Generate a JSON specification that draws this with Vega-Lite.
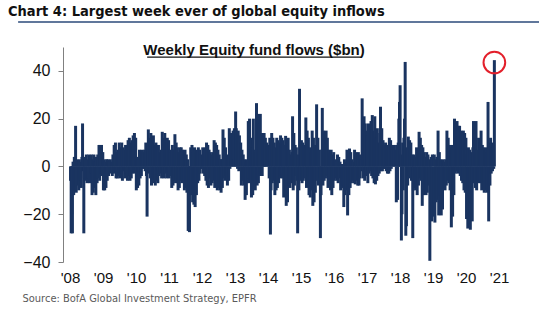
{
"$schema":"https://vega.github.io/schema/vega-lite/v6.json",
"width":452,"height":215,
"autosize":{"type":"none"},
"padding":{"left":63,"top":47,"right":35,"bottom":59},
"background":"white",
"config":{"view":{"stroke":null}},
"title":{"text":"Chart 4: Largest week ever of global equity inflows","anchor":"start","frame":"group","dx":-55,"offset":2,"font":"Liberation Sans Narrow, DejaVu Sans Condensed, sans-serif","fontSize":14.5,"fontWeight":"bold","color":"#111111"},
"datasets":{"flows":[
{"d":"2008-01","v":-6},{"d":"2008-02","v":-28},{"d":"2008-03","v":-20},{"d":"2008-04","v":-28},{"d":"2008-05","v":2},{"d":"2008-06","v":-12},{"d":"2008-07","v":4},{"d":"2008-08","v":-10},{"d":"2008-09","v":17},{"d":"2008-10","v":-11},{"d":"2008-11","v":3},{"d":"2008-12","v":-8},{"d":"2008-13","v":2},{"d":"2008-14","v":-10},{"d":"2008-15","v":3},{"d":"2008-16","v":-6},{"d":"2008-17","v":2},{"d":"2008-18","v":-9},{"d":"2008-19","v":4},{"d":"2008-20","v":18},{"d":"2008-21","v":-2},{"d":"2008-22","v":-28},{"d":"2008-23","v":-5},{"d":"2008-24","v":4},{"d":"2008-25","v":-6},{"d":"2008-26","v":5},{"d":"2008-27","v":-7},{"d":"2008-28","v":3},{"d":"2008-29","v":-5},{"d":"2008-30","v":5},{"d":"2008-31","v":-7},{"d":"2008-32","v":4},{"d":"2008-33","v":-3},{"d":"2008-34","v":5},{"d":"2008-35","v":-12},{"d":"2008-36","v":3},{"d":"2008-37","v":-11},{"d":"2008-38","v":5},{"d":"2008-39","v":-9},{"d":"2008-40","v":2},{"d":"2008-41","v":-12},{"d":"2008-42","v":4},{"d":"2008-43","v":-7},{"d":"2008-44","v":5},{"d":"2008-45","v":-5},{"d":"2008-46","v":9},{"d":"2008-47","v":-6},{"d":"2008-48","v":8},{"d":"2008-49","v":-3},{"d":"2008-50","v":9},{"d":"2008-51","v":-4},{"d":"2008-52","v":6},
{"d":"2009-01","v":-10},{"d":"2009-02","v":3},{"d":"2009-03","v":-10},{"d":"2009-04","v":2},{"d":"2009-05","v":-9},{"d":"2009-06","v":3},{"d":"2009-07","v":-6},{"d":"2009-08","v":3},{"d":"2009-09","v":-4},{"d":"2009-10","v":2},{"d":"2009-11","v":-3},{"d":"2009-12","v":3},{"d":"2009-13","v":-2},{"d":"2009-14","v":2},{"d":"2009-15","v":-4},{"d":"2009-16","v":5},{"d":"2009-17","v":-3},{"d":"2009-18","v":9},{"d":"2009-19","v":-2},{"d":"2009-20","v":10},{"d":"2009-21","v":-5},{"d":"2009-22","v":6},{"d":"2009-23","v":-5},{"d":"2009-24","v":7},{"d":"2009-25","v":-4},{"d":"2009-26","v":10},{"d":"2009-27","v":-5},{"d":"2009-28","v":8},{"d":"2009-29","v":-3},{"d":"2009-30","v":10},{"d":"2009-31","v":-6},{"d":"2009-32","v":8},{"d":"2009-33","v":-2},{"d":"2009-34","v":7},{"d":"2009-35","v":-5},{"d":"2009-36","v":9},{"d":"2009-37","v":-3},{"d":"2009-38","v":8},{"d":"2009-39","v":-6},{"d":"2009-40","v":11},{"d":"2009-41","v":-4},{"d":"2009-42","v":12},{"d":"2009-43","v":-6},{"d":"2009-44","v":10},{"d":"2009-45","v":-5},{"d":"2009-46","v":11},{"d":"2009-47","v":-3},{"d":"2009-48","v":13},{"d":"2009-49","v":-2},{"d":"2009-50","v":14},{"d":"2009-51","v":-3},{"d":"2009-52","v":12},
{"d":"2010-01","v":-10},{"d":"2010-02","v":4},{"d":"2010-03","v":-9},{"d":"2010-04","v":3},{"d":"2010-05","v":-8},{"d":"2010-06","v":7},{"d":"2010-07","v":-5},{"d":"2010-08","v":6},{"d":"2010-09","v":-4},{"d":"2010-10","v":7},{"d":"2010-11","v":-1},{"d":"2010-12","v":6},{"d":"2010-13","v":-1},{"d":"2010-14","v":7},{"d":"2010-15","v":-2},{"d":"2010-16","v":10},{"d":"2010-17","v":-4},{"d":"2010-18","v":-21},{"d":"2010-19","v":8},{"d":"2010-20","v":15.5},{"d":"2010-21","v":-3},{"d":"2010-22","v":12},{"d":"2010-23","v":-5},{"d":"2010-24","v":14},{"d":"2010-25","v":-8},{"d":"2010-26","v":12},{"d":"2010-27","v":-6},{"d":"2010-28","v":13},{"d":"2010-29","v":-7},{"d":"2010-30","v":9},{"d":"2010-31","v":-8},{"d":"2010-32","v":10},{"d":"2010-33","v":-6},{"d":"2010-34","v":8},{"d":"2010-35","v":-7},{"d":"2010-36","v":9},{"d":"2010-37","v":-4},{"d":"2010-38","v":6},{"d":"2010-39","v":-3},{"d":"2010-40","v":7},{"d":"2010-41","v":-5},{"d":"2010-42","v":14.5},{"d":"2010-43","v":-4},{"d":"2010-44","v":12},{"d":"2010-45","v":-5},{"d":"2010-46","v":14},{"d":"2010-47","v":-3},{"d":"2010-48","v":11},{"d":"2010-49","v":-5},{"d":"2010-50","v":12},{"d":"2010-51","v":-2},{"d":"2010-52","v":11},
{"d":"2011-01","v":-5},{"d":"2011-02","v":7},{"d":"2011-03","v":-4},{"d":"2011-04","v":6},{"d":"2011-05","v":-9},{"d":"2011-06","v":9},{"d":"2011-07","v":-8},{"d":"2011-08","v":7},{"d":"2011-09","v":-6},{"d":"2011-10","v":13.5},{"d":"2011-11","v":-7},{"d":"2011-12","v":10},{"d":"2011-13","v":-5},{"d":"2011-14","v":8},{"d":"2011-15","v":-10},{"d":"2011-16","v":6},{"d":"2011-17","v":-9},{"d":"2011-18","v":8},{"d":"2011-19","v":-6},{"d":"2011-20","v":8},{"d":"2011-21","v":-7},{"d":"2011-22","v":7},{"d":"2011-23","v":-6},{"d":"2011-24","v":6},{"d":"2011-25","v":-10},{"d":"2011-26","v":7},{"d":"2011-27","v":-9},{"d":"2011-28","v":5},{"d":"2011-29","v":-11},{"d":"2011-30","v":3},{"d":"2011-31","v":-27},{"d":"2011-32","v":-22},{"d":"2011-33","v":-27.5},{"d":"2011-34","v":-10},{"d":"2011-35","v":8},{"d":"2011-36","v":-12},{"d":"2011-37","v":9},{"d":"2011-38","v":-15},{"d":"2011-39","v":6},{"d":"2011-40","v":-16},{"d":"2011-41","v":8},{"d":"2011-42","v":-17},{"d":"2011-43","v":6},{"d":"2011-44","v":-12},{"d":"2011-45","v":7},{"d":"2011-46","v":-7},{"d":"2011-47","v":8},{"d":"2011-48","v":-6},{"d":"2011-49","v":7},{"d":"2011-50","v":-3},{"d":"2011-51","v":5},{"d":"2011-52","v":-1},
{"d":"2012-01","v":-1},{"d":"2012-02","v":8},{"d":"2012-03","v":-3},{"d":"2012-04","v":7},{"d":"2012-05","v":-4},{"d":"2012-06","v":8},{"d":"2012-07","v":-6},{"d":"2012-08","v":10},{"d":"2012-09","v":-8},{"d":"2012-10","v":9},{"d":"2012-11","v":-9},{"d":"2012-12","v":7},{"d":"2012-13","v":-5},{"d":"2012-14","v":6},{"d":"2012-15","v":-8},{"d":"2012-16","v":5},{"d":"2012-17","v":-7},{"d":"2012-18","v":6},{"d":"2012-19","v":-6},{"d":"2012-20","v":11},{"d":"2012-21","v":-9},{"d":"2012-22","v":10},{"d":"2012-23","v":-8},{"d":"2012-24","v":9},{"d":"2012-25","v":-10},{"d":"2012-26","v":7},{"d":"2012-27","v":-9},{"d":"2012-28","v":5},{"d":"2012-29","v":-10},{"d":"2012-30","v":3},{"d":"2012-31","v":-11},{"d":"2012-32","v":3},{"d":"2012-33","v":-9},{"d":"2012-34","v":15.5},{"d":"2012-35","v":-5},{"d":"2012-36","v":12},{"d":"2012-37","v":-6},{"d":"2012-38","v":8},{"d":"2012-39","v":-4},{"d":"2012-40","v":5},{"d":"2012-41","v":-8},{"d":"2012-42","v":4},{"d":"2012-43","v":-6},{"d":"2012-44","v":16},{"d":"2012-45","v":-1},{"d":"2012-46","v":14},{"d":"2012-47","v":2},{"d":"2012-48","v":12},{"d":"2012-49","v":0},{"d":"2012-50","v":15},{"d":"2012-51","v":3},{"d":"2012-52","v":16},
{"d":"2013-01","v":23},{"d":"2013-02","v":16},{"d":"2013-03","v":14},{"d":"2013-04","v":-1},{"d":"2013-05","v":15},{"d":"2013-06","v":-2},{"d":"2013-07","v":13},{"d":"2013-08","v":-1},{"d":"2013-09","v":10},{"d":"2013-10","v":-8},{"d":"2013-11","v":7},{"d":"2013-12","v":-6},{"d":"2013-13","v":5},{"d":"2013-14","v":-8},{"d":"2013-15","v":3},{"d":"2013-16","v":-14},{"d":"2013-17","v":2},{"d":"2013-18","v":-12},{"d":"2013-19","v":3},{"d":"2013-20","v":-7},{"d":"2013-21","v":19},{"d":"2013-22","v":-5},{"d":"2013-23","v":20},{"d":"2013-24","v":-7},{"d":"2013-25","v":12},{"d":"2013-26","v":-13},{"d":"2013-27","v":8},{"d":"2013-28","v":-12},{"d":"2013-29","v":20},{"d":"2013-30","v":-6},{"d":"2013-31","v":7},{"d":"2013-32","v":-10},{"d":"2013-33","v":6},{"d":"2013-34","v":26.5},{"d":"2013-35","v":-8},{"d":"2013-36","v":22},{"d":"2013-37","v":-7},{"d":"2013-38","v":18},{"d":"2013-39","v":-4},{"d":"2013-40","v":22},{"d":"2013-41","v":-3},{"d":"2013-42","v":14},{"d":"2013-43","v":-4},{"d":"2013-44","v":13},{"d":"2013-45","v":1},{"d":"2013-46","v":14},{"d":"2013-47","v":2},{"d":"2013-48","v":12},{"d":"2013-49","v":1},{"d":"2013-50","v":10},{"d":"2013-51","v":0},{"d":"2013-52","v":9},
{"d":"2014-01","v":9},{"d":"2014-02","v":-5},{"d":"2014-03","v":12},{"d":"2014-04","v":-28.5},{"d":"2014-05","v":-10},{"d":"2014-06","v":14},{"d":"2014-07","v":-7},{"d":"2014-08","v":12},{"d":"2014-09","v":-6},{"d":"2014-10","v":10},{"d":"2014-11","v":-12},{"d":"2014-12","v":8},{"d":"2014-13","v":-10},{"d":"2014-14","v":12},{"d":"2014-15","v":-9},{"d":"2014-16","v":11},{"d":"2014-17","v":-7},{"d":"2014-18","v":10},{"d":"2014-19","v":-5},{"d":"2014-20","v":13},{"d":"2014-21","v":-4},{"d":"2014-22","v":12},{"d":"2014-23","v":-5},{"d":"2014-24","v":11},{"d":"2014-25","v":-13},{"d":"2014-26","v":9},{"d":"2014-27","v":-12},{"d":"2014-28","v":12.8},{"d":"2014-29","v":-16.5},{"d":"2014-30","v":10},{"d":"2014-31","v":-15},{"d":"2014-32","v":12},{"d":"2014-33","v":-8},{"d":"2014-34","v":7},{"d":"2014-35","v":-9},{"d":"2014-36","v":5},{"d":"2014-37","v":-7},{"d":"2014-38","v":6},{"d":"2014-39","v":21},{"d":"2014-40","v":-10},{"d":"2014-41","v":14},{"d":"2014-42","v":-8},{"d":"2014-43","v":9},{"d":"2014-44","v":-4},{"d":"2014-45","v":8},{"d":"2014-46","v":-6},{"d":"2014-47","v":-28},{"d":"2014-48","v":5},{"d":"2014-49","v":-10},{"d":"2014-50","v":32.5},{"d":"2014-51","v":-6},{"d":"2014-52","v":10},
{"d":"2015-01","v":11},{"d":"2015-02","v":-7},{"d":"2015-03","v":10},{"d":"2015-04","v":-6},{"d":"2015-05","v":9},{"d":"2015-06","v":-5},{"d":"2015-07","v":8},{"d":"2015-08","v":20.5},{"d":"2015-09","v":-9},{"d":"2015-10","v":15},{"d":"2015-11","v":-8},{"d":"2015-12","v":12},{"d":"2015-13","v":-12},{"d":"2015-14","v":8},{"d":"2015-15","v":-13},{"d":"2015-16","v":6},{"d":"2015-17","v":-10},{"d":"2015-18","v":15},{"d":"2015-19","v":-16.5},{"d":"2015-20","v":12},{"d":"2015-21","v":-15},{"d":"2015-22","v":9},{"d":"2015-23","v":-11},{"d":"2015-24","v":8},{"d":"2015-25","v":26},{"d":"2015-26","v":-6},{"d":"2015-27","v":12},{"d":"2015-28","v":-8},{"d":"2015-29","v":7},{"d":"2015-30","v":-5},{"d":"2015-31","v":-30},{"d":"2015-32","v":-12},{"d":"2015-33","v":7},{"d":"2015-34","v":24.5},{"d":"2015-35","v":-8},{"d":"2015-36","v":15},{"d":"2015-37","v":-6},{"d":"2015-38","v":14},{"d":"2015-39","v":-5},{"d":"2015-40","v":15},{"d":"2015-41","v":-4},{"d":"2015-42","v":12},{"d":"2015-43","v":-9},{"d":"2015-44","v":7},{"d":"2015-45","v":-8},{"d":"2015-46","v":6},{"d":"2015-47","v":-10},{"d":"2015-48","v":7},{"d":"2015-49","v":-12},{"d":"2015-50","v":5},{"d":"2015-51","v":-9},{"d":"2015-52","v":6},
{"d":"2016-01","v":-6},{"d":"2016-02","v":3},{"d":"2016-03","v":-5},{"d":"2016-04","v":2},{"d":"2016-05","v":-6},{"d":"2016-06","v":5},{"d":"2016-07","v":-7},{"d":"2016-08","v":4},{"d":"2016-09","v":-5},{"d":"2016-10","v":2},{"d":"2016-11","v":-10},{"d":"2016-12","v":1},{"d":"2016-13","v":-9},{"d":"2016-14","v":1},{"d":"2016-15","v":-8},{"d":"2016-16","v":-17},{"d":"2016-17","v":3},{"d":"2016-18","v":-12},{"d":"2016-19","v":2},{"d":"2016-20","v":-10},{"d":"2016-21","v":7},{"d":"2016-22","v":-20.5},{"d":"2016-23","v":5},{"d":"2016-24","v":-12},{"d":"2016-25","v":7.5},{"d":"2016-26","v":-9},{"d":"2016-27","v":6},{"d":"2016-28","v":-7},{"d":"2016-29","v":3},{"d":"2016-30","v":-6},{"d":"2016-31","v":2},{"d":"2016-32","v":-7},{"d":"2016-33","v":7},{"d":"2016-34","v":-7.5},{"d":"2016-35","v":6},{"d":"2016-36","v":-6},{"d":"2016-37","v":5},{"d":"2016-38","v":-8},{"d":"2016-39","v":6},{"d":"2016-40","v":-8},{"d":"2016-41","v":5},{"d":"2016-42","v":-5},{"d":"2016-43","v":3},{"d":"2016-44","v":-2},{"d":"2016-45","v":28.5},{"d":"2016-46","v":20},{"d":"2016-47","v":-5},{"d":"2016-48","v":21},{"d":"2016-49","v":-6},{"d":"2016-50","v":18},{"d":"2016-51","v":-4},{"d":"2016-52","v":15},
{"d":"2017-01","v":13},{"d":"2017-02","v":-7},{"d":"2017-03","v":18},{"d":"2017-04","v":-3},{"d":"2017-05","v":14},{"d":"2017-06","v":-2},{"d":"2017-07","v":19},{"d":"2017-08","v":-4},{"d":"2017-09","v":21.5},{"d":"2017-10","v":-5},{"d":"2017-11","v":15},{"d":"2017-12","v":-7},{"d":"2017-13","v":21},{"d":"2017-14","v":-7.5},{"d":"2017-15","v":12},{"d":"2017-16","v":-6},{"d":"2017-17","v":16},{"d":"2017-18","v":-4},{"d":"2017-19","v":10},{"d":"2017-20","v":-3},{"d":"2017-21","v":14},{"d":"2017-22","v":25},{"d":"2017-23","v":-2},{"d":"2017-24","v":16},{"d":"2017-25","v":-2},{"d":"2017-26","v":11},{"d":"2017-27","v":-1},{"d":"2017-28","v":9},{"d":"2017-29","v":-1},{"d":"2017-30","v":10},{"d":"2017-31","v":-2},{"d":"2017-32","v":9},{"d":"2017-33","v":-3},{"d":"2017-34","v":8},{"d":"2017-35","v":-3},{"d":"2017-36","v":12},{"d":"2017-37","v":-2},{"d":"2017-38","v":11},{"d":"2017-39","v":-1},{"d":"2017-40","v":9},{"d":"2017-41","v":0},{"d":"2017-42","v":8},{"d":"2017-43","v":1},{"d":"2017-44","v":9},{"d":"2017-45","v":0},{"d":"2017-46","v":7},{"d":"2017-47","v":-15},{"d":"2017-48","v":9},{"d":"2017-49","v":-14},{"d":"2017-50","v":10},{"d":"2017-51","v":20},{"d":"2017-52","v":27},
{"d":"2018-01","v":34},{"d":"2018-02","v":5},{"d":"2018-03","v":-31},{"d":"2018-04","v":-20},{"d":"2018-05","v":10},{"d":"2018-06","v":-10},{"d":"2018-07","v":12},{"d":"2018-08","v":20},{"d":"2018-09","v":43.75},{"d":"2018-10","v":-29},{"d":"2018-11","v":-25},{"d":"2018-12","v":8},{"d":"2018-13","v":-8},{"d":"2018-14","v":12.5},{"d":"2018-15","v":-4},{"d":"2018-16","v":11},{"d":"2018-17","v":-5},{"d":"2018-18","v":10},{"d":"2018-19","v":-6},{"d":"2018-20","v":5},{"d":"2018-21","v":-30},{"d":"2018-22","v":-10},{"d":"2018-23","v":5},{"d":"2018-24","v":-9},{"d":"2018-25","v":4},{"d":"2018-26","v":-10},{"d":"2018-27","v":8},{"d":"2018-28","v":-12},{"d":"2018-29","v":6},{"d":"2018-30","v":-8},{"d":"2018-31","v":14.5},{"d":"2018-32","v":-5},{"d":"2018-33","v":12},{"d":"2018-34","v":-6},{"d":"2018-35","v":9},{"d":"2018-36","v":-16.5},{"d":"2018-37","v":8},{"d":"2018-38","v":-12},{"d":"2018-39","v":6},{"d":"2018-40","v":-10},{"d":"2018-41","v":4},{"d":"2018-42","v":-12},{"d":"2018-43","v":6},{"d":"2018-44","v":-11},{"d":"2018-45","v":5},{"d":"2018-46","v":-8},{"d":"2018-47","v":3},{"d":"2018-48","v":-39.5},{"d":"2018-49","v":-15},{"d":"2018-50","v":4},{"d":"2018-51","v":-23},{"d":"2018-52","v":5},
{"d":"2019-01","v":-21},{"d":"2019-02","v":5},{"d":"2019-03","v":-23.5},{"d":"2019-04","v":3},{"d":"2019-05","v":-15},{"d":"2019-06","v":4},{"d":"2019-07","v":-14},{"d":"2019-08","v":15},{"d":"2019-09","v":-20.5},{"d":"2019-10","v":6},{"d":"2019-11","v":-12},{"d":"2019-12","v":3},{"d":"2019-13","v":-20.5},{"d":"2019-14","v":2},{"d":"2019-15","v":-18},{"d":"2019-16","v":3},{"d":"2019-17","v":-9},{"d":"2019-18","v":2},{"d":"2019-19","v":-10},{"d":"2019-20","v":3},{"d":"2019-21","v":-8},{"d":"2019-22","v":15},{"d":"2019-23","v":-6},{"d":"2019-24","v":12},{"d":"2019-25","v":-7},{"d":"2019-26","v":9},{"d":"2019-27","v":-10},{"d":"2019-28","v":8},{"d":"2019-29","v":-25.5},{"d":"2019-30","v":9},{"d":"2019-31","v":-21},{"d":"2019-32","v":7},{"d":"2019-33","v":-12},{"d":"2019-34","v":20},{"d":"2019-35","v":-3},{"d":"2019-36","v":18},{"d":"2019-37","v":-2},{"d":"2019-38","v":19},{"d":"2019-39","v":-3},{"d":"2019-40","v":17},{"d":"2019-41","v":-2},{"d":"2019-42","v":17},{"d":"2019-43","v":-4},{"d":"2019-44","v":15},{"d":"2019-45","v":-6},{"d":"2019-46","v":14},{"d":"2019-47","v":-7},{"d":"2019-48","v":15},{"d":"2019-49","v":-10},{"d":"2019-50","v":14},{"d":"2019-51","v":-11},{"d":"2019-52","v":12},
{"d":"2020-01","v":-22},{"d":"2020-02","v":5},{"d":"2020-03","v":-26},{"d":"2020-04","v":8},{"d":"2020-05","v":-12},{"d":"2020-06","v":7},{"d":"2020-07","v":-26.5},{"d":"2020-08","v":-15},{"d":"2020-09","v":6},{"d":"2020-10","v":-23},{"d":"2020-11","v":8},{"d":"2020-12","v":19},{"d":"2020-13","v":-7},{"d":"2020-14","v":12},{"d":"2020-15","v":-9},{"d":"2020-16","v":19},{"d":"2020-17","v":-10},{"d":"2020-18","v":7},{"d":"2020-19","v":-7},{"d":"2020-20","v":12},{"d":"2020-21","v":-6},{"d":"2020-22","v":10},{"d":"2020-23","v":-7},{"d":"2020-24","v":15},{"d":"2020-25","v":-10},{"d":"2020-26","v":9},{"d":"2020-27","v":-8},{"d":"2020-28","v":8},{"d":"2020-29","v":-11},{"d":"2020-30","v":7},{"d":"2020-31","v":-10},{"d":"2020-32","v":8},{"d":"2020-33","v":-11},{"d":"2020-34","v":6},{"d":"2020-35","v":27},{"d":"2020-36","v":-23},{"d":"2020-37","v":10},{"d":"2020-38","v":-8},{"d":"2020-39","v":12},{"d":"2020-40","v":-3},{"d":"2020-41","v":8},{"d":"2020-42","v":-2},{"d":"2020-43","v":10},{"d":"2020-44","v":-1},{"d":"2020-45","v":44.5}
],
"one":[{"note":"annotation"}]},
"layer":[
{"data":{"name":"flows","format":{"parse":{"d":"date:'%Y-%W'"}}},
 "mark":{"type":"bar","width":3,"color":"#1a3460"},
 "encoding":{
  "x":{"field":"d","type":"temporal",
   "scale":{"domain":[{"year":2007,"month":12,"date":10},{"year":2021,"month":5,"date":1}]},
   "axis":{"format":"'%y","tickCount":{"interval":"year","step":1},"domain":false,"ticks":false,"grid":false,"labelFlush":false,"labelOverlap":false,"labelFont":"Liberation Sans","labelFontSize":15,"labelColor":"#111111","labelPadding":8,
    "title":"Source: BofA Global Investment Strategy, EPFR","titleFont":"Liberation Sans Narrow, DejaVu Sans Condensed, sans-serif","titleFontSize":11,"titleFontWeight":"normal","titleColor":"#5a5a5a","titleAlign":"left","titleBaseline":"alphabetic","titleX":-41,"titleY":39,"titleAnchor":"start"}},
  "y":{"field":"v","type":"quantitative",
   "scale":{"domain":[-40,50],"nice":false},
   "axis":{"values":[-40,-20,0,20,40],"grid":false,"title":null,"domainColor":"#808080","tickColor":"#808080","tickSize":5,"labelFont":"Liberation Sans","labelFontSize":16,"labelColor":"#111111","labelPadding":8}}
 }},
{"data":{"name":"one"},
 "mark":{"type":"point","shape":"circle","filled":false,"stroke":"#e3202b","strokeWidth":2,"size":470,"opacity":1},
 "encoding":{"x":{"datum":{"year":2020,"month":11,"date":9},"type":"temporal"},"y":{"datum":43.5,"type":"quantitative"}}},
{"data":{"name":"one"},
 "mark":{"type":"text","font":"Liberation Sans","fontSize":15,"fontWeight":"bold","align":"center","baseline":"alphabetic","color":"#111111"},
 "encoding":{"x":{"datum":{"year":2013,"month":7,"date":30},"type":"temporal"},"y":{"datum":46.6,"type":"quantitative"},"text":{"value":"Weekly Equity fund flows ($bn)"}}},
{"data":{"name":"one"},
 "mark":{"type":"rule","color":"#111111","strokeWidth":1.2},
 "encoding":{"x":{"datum":{"year":2010,"month":5,"date":4},"type":"temporal"},"x2":{"datum":{"year":2016,"month":10,"date":27}},"y":{"datum":45.8,"type":"quantitative"}}},
{"data":{"name":"one"},
 "mark":{"type":"rule","color":"#2b4a7a","strokeWidth":1.5},
 "encoding":{"x":{"datum":{"year":2006,"month":6,"date":6},"type":"temporal"},"x2":{"datum":{"year":2022,"month":3,"date":18}},"y":{"datum":60.46,"type":"quantitative"}}}
]
}
